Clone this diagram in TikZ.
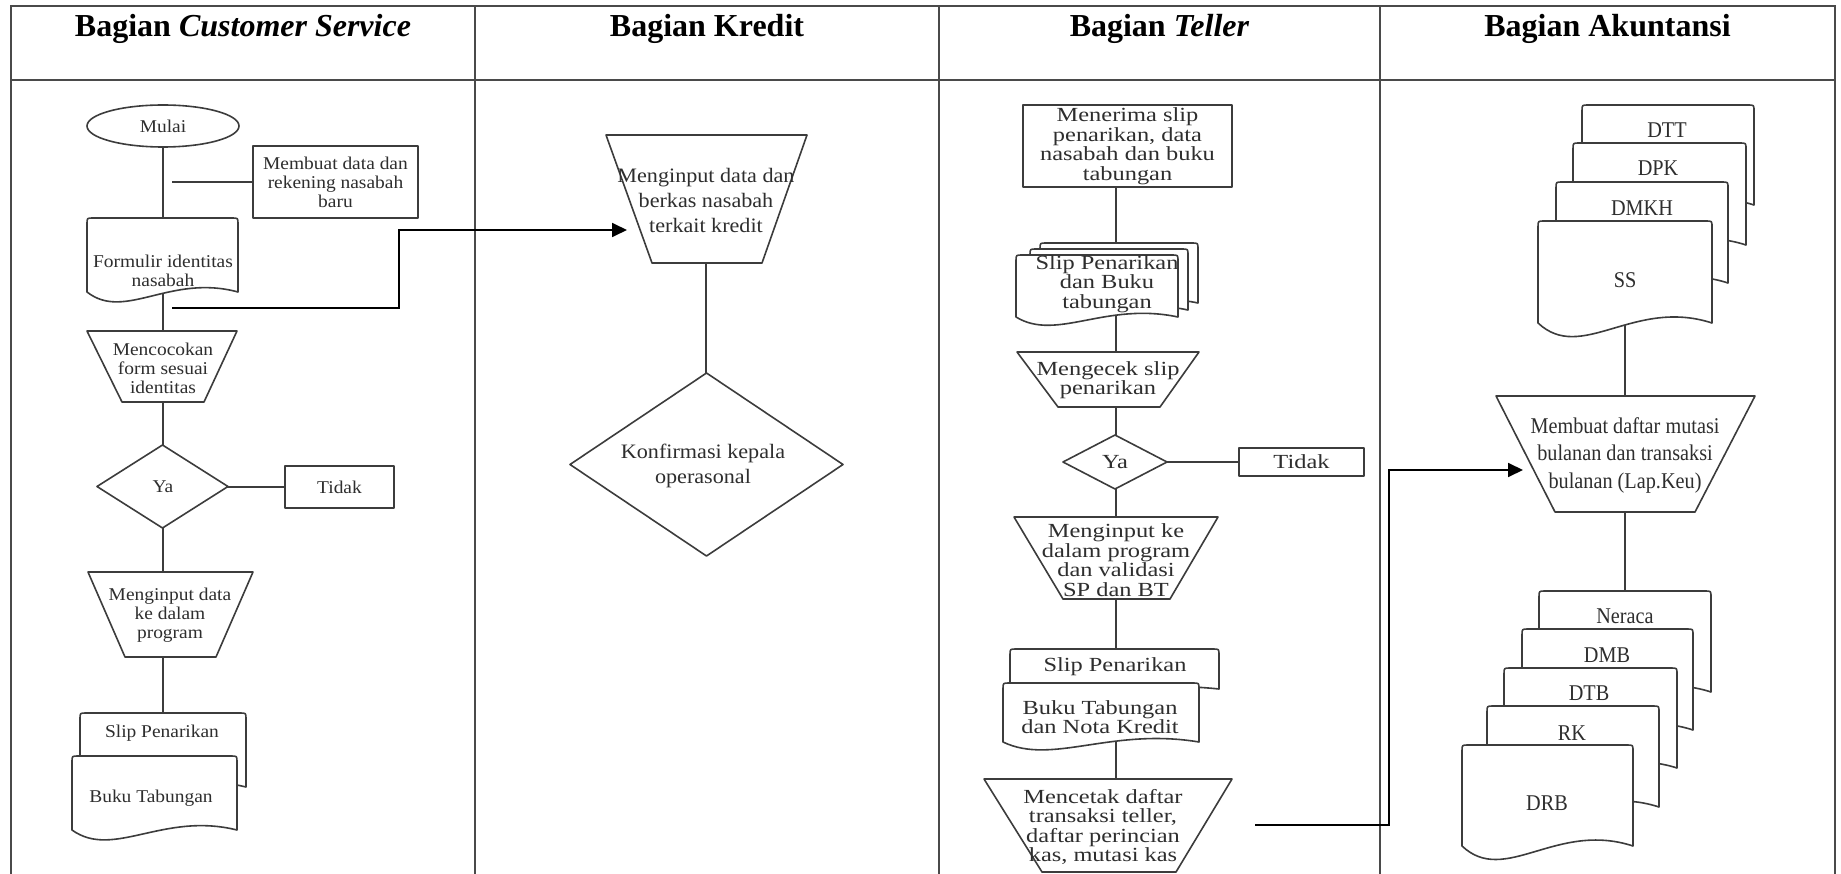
\documentclass[tikz,border=0pt]{standalone}
\usepackage{fontspec}
\setmainfont{Liberation Serif}
\newfontfamily\fcs[FakeStretch=1.08]{Liberation Serif}
\newfontfamily\ftl[FakeStretch=1.22]{Liberation Serif}
\newfontfamily\fak[FakeStretch=0.9]{Liberation Serif}
\usetikzlibrary{shapes.geometric,arrows.meta,backgrounds}
\definecolor{linec}{HTML}{3C3C3C}
\definecolor{txtc}{HTML}{2E2E2E}
\definecolor{tblc}{HTML}{4A4A4A}

% document symbol: left x, top y, right x, bottom y of the right corner
\newcommand\docshape[4]{%
  \pgfmathsetmacro\docW{#3-#1}%
  \pgfmathsetmacro\docH{#4-#2}%
  \draw[shp] (#1,#4) -- ({#1},{#2+6}) .. controls (#1,#2) .. ({#1+6},{#2})
    -- ({#3-6},{#2}) .. controls (#3,#2) .. ({#3},{#2+6}) -- (#3,#4)
    .. controls ({#1+0.55*\docW},{#4-0.25*\docH}) and ({#1+0.25*\docW},{#4+0.4*\docH}) .. (#1,#4) -- cycle;}
% manual operation: top left x, top right x, top y, bottom left x, bottom right x, bottom y
\newcommand\trap[6]{%
  \draw[shp] (#1,#3) -- (#2,#3) -- (#5,#6) -- (#4,#6) -- cycle;}
% decision: centre x, centre y, width, height
\newcommand\dmd[4]{%
  \draw[shp] ({#1-#3/2},#2) -- (#1,{#2-#4/2}) -- ({#1+#3/2},#2) -- (#1,{#2+#4/2}) -- cycle;}

\tikzset{
  shp/.style={draw=linec, line width=1.6pt, fill=white, line join=round},
  lnk/.style={draw=linec, line width=1.6pt},
  tbl/.style={draw=tblc, line width=2pt},
  arr/.style={draw=black, line width=1.8pt, -{Triangle[length=15pt,width=14pt]}},
  tcs/.style={font=\fcs\fontsize{18}{19}\selectfont, text=txtc, align=center, inner sep=0pt},
  tkr/.style={font=\fcs\fontsize{20.5}{25}\selectfont, text=txtc, align=center, inner sep=0pt},
  ttl/.style={font=\ftl\fontsize{20}{19.5}\selectfont, text=txtc, align=center, inner sep=0pt},
  tak/.style={font=\fak\fontsize{22.5}{27.5}\selectfont, text=txtc, align=center, inner sep=0pt},
  head/.style={font=\fontsize{32}{36}\selectfont\bfseries, anchor=base, inner sep=0pt},
}

\begin{document}
\begin{tikzpicture}[x=1pt, y=-1pt]
\useasboundingbox (0,0) rectangle (1841,874);

% ---------------- table frame ----------------
\draw[tbl] (11,876) -- (11,6) -- (1835,6) -- (1835,876);
\draw[tbl] (11,80) -- (1835,80);
\draw[tbl] (475,6) -- (475,876);
\draw[tbl] (939,6) -- (939,876);
\draw[tbl] (1380,6) -- (1380,876);

\node[head] (h1) at (243,37) {Bagian \textit{Customer Service}};
\node[head] (h2) at (707,37) {Bagian Kredit};
\node[head] (h3) at (1159.5,37) {Bagian \textit{Teller}};
\node[head] (h4) at (1607.5,37) {Bagian Akuntansi};

% ---------------- Customer Service ----------------
\node[shp, ellipse, tcs, minimum width=152pt, minimum height=42pt] (mulai) at (163,126) {Mulai};
\node[shp, rectangle, tcs, minimum width=165pt, minimum height=72pt] (membuat) at (335.5,182) {Membuat data dan\\rekening nasabah\\baru};
\coordinate (brcs) at (172,182);
\docshape{87}{218}{238}{292}
\node[tcs] (formulir) at (163,271) {Formulir identitas\\nasabah};
\trap{87}{237}{331}{122}{204}{402}
\node[tcs] (cocok) at (163,368) {Mencocokan\\form sesuai\\identitas};
\dmd{162.5}{486.5}{131}{83}
\node[tcs] (yacs) at (163,487) {Ya};
\node[shp, rectangle, tcs, minimum width=109pt, minimum height=42pt] (tidakcs) at (339.5,487) {Tidak};
\trap{88}{253}{572}{125}{216}{657}
\node[tcs] (inputcs) at (170,615) {Menginput data\\ke dalam\\program};
\docshape{80}{713}{246}{787}
\node[tcs] (slipcs) at (162,733) {Slip Penarikan};
\docshape{72}{756}{237}{830}
\node[tcs] (bukucs) at (151,798) {Buku Tabungan};

% ---------------- Kredit ----------------
\trap{606}{807}{135}{652}{762}{263}
\node[tkr] (kin) at (706,200) {Menginput data dan\\berkas nasabah\\terkait kredit};
\dmd{706.5}{464.5}{273}{183}
\node[tkr] (konf) at (703,466) {Konfirmasi kepala\\operasonal};

% ---------------- Teller ----------------
\coordinate (axT) at (1116,146);
\node[shp, rectangle, ttl, minimum width=209pt, minimum height=82pt] (menerima) at (1127.5,146) {Menerima slip\\penarikan, data\\nasabah dan buku\\tabungan};
\docshape{1040}{243}{1198}{303}
\docshape{1030}{249}{1188}{310}
\docshape{1016}{255}{1178}{317}
\node[ttl] (slipbk) at (1107,284) {Slip Penarikan\\dan Buku\\tabungan};
\trap{1017}{1199}{352}{1058}{1160}{407}
\node[ttl] (cek) at (1108,380) {Mengecek slip\\penarikan};
\dmd{1115}{462}{104}{54}
\node[ttl] (yatl) at (1115,462) {Ya};
\node[shp, rectangle, ttl, minimum width=125pt, minimum height=28pt] (tidaktl) at (1301.5,462) {Tidak};
\trap{1014}{1218}{517}{1063}{1170}{599}
\node[ttl] (inputtl) at (1116,560) {Menginput ke\\dalam program\\dan validasi\\SP dan BT};
\docshape{1010}{649}{1219}{689}
\node[ttl] (sliptl) at (1115,667) {Slip Penarikan};
\docshape{1003}{683}{1199}{742}
\node[ttl] (bukutl) at (1100,717) {Buku Tabungan\\dan Nota Kredit};
\trap{984}{1232}{779}{1042}{1176}{872}
\node[ttl] (cetak) at (1103,827) {Mencetak daftar\\transaksi teller,\\daftar perincian\\kas, mutasi kas};

% ---------------- Akuntansi ----------------
\docshape{1582}{105}{1754}{205}
\node[tak] (dtt) at (1667,130) {DTT};
\docshape{1573}{143}{1746}{245}
\node[tak] (dpk) at (1658,168) {DPK};
\docshape{1556}{182}{1728}{283}
\node[tak] (dmkh) at (1642,208) {DMKH};
\docshape{1538}{221}{1712}{323}
\node[tak] (ss) at (1625,280) {SS};
\trap{1496}{1755}{396}{1555}{1695}{512}
\node[tak] (lapkeu) at (1625,455) {Membuat daftar mutasi\\bulanan dan transaksi\\bulanan (Lap.Keu)};
\docshape{1539}{591}{1711}{692}
\node[tak] (neraca) at (1625,616) {Neraca};
\docshape{1522}{629}{1693}{730}
\node[tak] (dmb) at (1607,655) {DMB};
\docshape{1504}{668}{1677}{768}
\node[tak] (dtb) at (1589,693) {DTB};
\docshape{1487}{706}{1659}{807}
\node[tak] (rk) at (1572,733) {RK};
\docshape{1462}{745}{1633}{846}
\node[tak] (drb) at (1547,803) {DRB};

% ---------------- flows between departments ----------------
\coordinate (c1a) at (172,308);
\coordinate (c1b) at (627,230);
\draw[arr] (c1a) -- ++(227,0) |- (c1b);
\coordinate (c2a) at (1255,825);
\coordinate (c2b) at (1523,470);
\draw[arr] (c2a) -- ++(134,0) |- (c2b);

% ---------------- flow lines behind the symbols ----------------
\begin{scope}[on background layer]
  \draw[lnk] (mulai) -- (formulir);
  \draw[lnk] (formulir) -- (cocok);
  \draw[lnk] (cocok) -- (yacs);
  \draw[lnk] (yacs) -- (yacs |- inputcs);
  \draw[lnk] (yacs |- inputcs) -- (yacs |- slipcs);
  \draw[lnk] (brcs) -- (membuat);
  \draw[lnk] (yacs) -- (tidakcs);
  \draw[lnk] (kin) -- (kin |- konf);
  \draw[lnk] (axT) -- (axT |- slipbk);
  \draw[lnk] (axT |- slipbk) -- (axT |- cek);
  \draw[lnk] (axT |- cek) -- (axT |- yatl);
  \draw[lnk] (axT |- yatl) -- (axT |- inputtl);
  \draw[lnk] (axT |- inputtl) -- (axT |- sliptl);
  \draw[lnk] (axT |- bukutl) -- (axT |- cetak);
  \draw[lnk] (yatl) -- (tidaktl);
  \draw[lnk] (ss) -- (lapkeu);
  \draw[lnk] (lapkeu) -- (neraca);
\end{scope}
\end{tikzpicture}
\end{document}
